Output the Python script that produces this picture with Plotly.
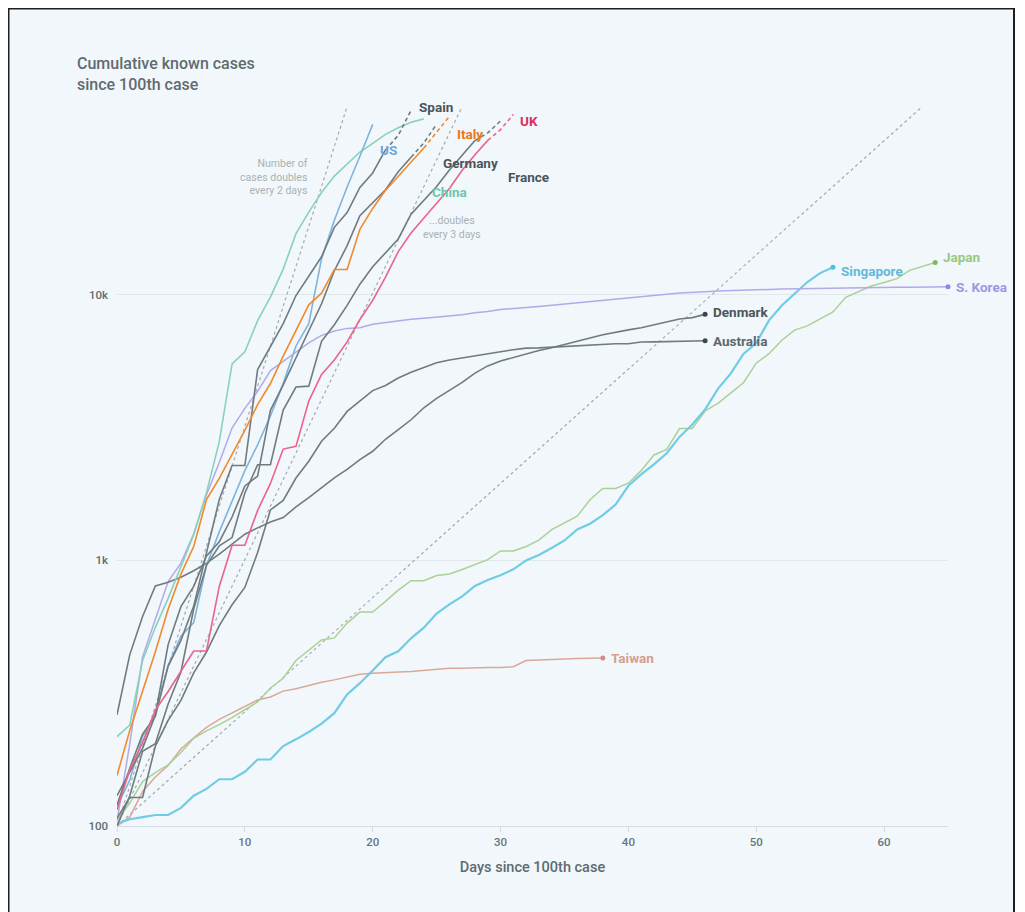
import math
import plotly.graph_objects as go

# ---------------- data (cumulative cases by day since 100th case) ----------------
china = [217, 240, 420, 560, 720, 950, 1250, 1800, 2800, 5500, 6100, 8000, 9800, 12500,
         17000, 20500, 24300, 28000, 31200, 34500, 37200, 40200, 42600, 44700, 46000]
italy = [155, 229, 322, 453, 655, 888, 1128, 1694, 2036, 2502, 3089, 3858, 4636, 5883,
         7375, 9172, 10149, 12462, 12462, 17660, 21157, 24747, 27980, 31506, 35713, 41035, 47021]
spain = [120, 165, 222, 259, 400, 500, 673, 1073, 1695, 2277, 2277, 5232, 6391, 7798,
         9942, 11748, 13910, 17963, 20410, 25374, 28768, 35136, 39885, 49515]
us = [118, 149, 217, 262, 402, 518, 583, 959, 1281, 1663, 2179, 2727, 3499, 4632, 6421,
      7786, 13680, 19101, 25493, 33276, 43847]
germany = [130, 159, 196, 262, 482, 670, 799, 1040, 1176, 1457, 1908, 2078, 3675, 4585,
           5795, 7272, 9257, 12327, 15320, 19848, 22213, 24873, 29056, 32986, 37323, 43938]
france = [100, 130, 191, 204, 288, 380, 656, 959, 1136, 1219, 1794, 2293, 2293, 3681, 4496,
          4532, 6683, 7715, 9124, 10970, 12758, 14463, 16243, 20123, 22622, 25600, 29551,
          33402, 38105, 40708, 45170]
uk = [115, 163, 206, 273, 321, 382, 456, 456, 798, 1140, 1140, 1543, 1950, 2626, 2689, 3983,
      5018, 5683, 6650, 8077, 9529, 11658, 14543, 17089, 19522, 22141, 25150, 29474, 33718,
      38168, 41903, 47806]
s_korea = [104, 204, 433, 602, 833, 977, 1261, 1766, 2337, 3150, 3736, 4335, 5186, 5621, 6088,
           6593, 7041, 7314, 7478, 7513, 7755, 7869, 7979, 8086, 8162, 8236, 8320, 8413, 8565,
           8652, 8799, 8897, 8961, 9037, 9137, 9241, 9332, 9478, 9583, 9661, 9786, 9887, 9976,
           10062, 10156, 10237, 10284, 10331, 10384, 10423, 10450, 10480, 10512, 10537, 10564,
           10591, 10613, 10635, 10653, 10661, 10674, 10683, 10694, 10702, 10708, 10718]
japan = [105, 122, 147, 159, 170, 189, 214, 228, 241, 256, 274, 293, 331, 360, 420, 461, 502,
         511, 581, 639, 639, 701, 773, 839, 839, 878, 889, 924, 963, 1007, 1086, 1086, 1128,
         1193, 1307, 1387, 1468, 1693, 1866, 1866, 1953, 2178, 2495, 2617, 3139, 3139, 3654,
         3906, 4257, 4667, 5530, 6005, 6748, 7370, 7645, 8100, 8626, 9787, 10296, 10797,
         11135, 11512, 12368, 12829, 13231]
singapore = [102, 106, 108, 110, 110, 117, 130, 138, 150, 150, 160, 178, 178, 200, 212, 226,
             243, 266, 313, 345, 385, 432, 455, 509, 558, 631, 683, 732, 802, 844, 879, 926,
             1000, 1049, 1114, 1189, 1309, 1375, 1481, 1623, 1910, 2108, 2299, 2532, 2918,
             3252, 3699, 4427, 5050, 5992, 6588, 8014, 9125, 10141, 11178, 12075, 12693]
denmark = [262, 442, 615, 801, 827, 864, 914, 977, 1057, 1151, 1255, 1326, 1395, 1450, 1591,
           1724, 1877, 2046, 2201, 2395, 2577, 2860, 3107, 3386, 3757, 4077, 4369, 4681, 5071,
           5402, 5635, 5819, 5996, 6174, 6318, 6511, 6681, 6879, 7073, 7242, 7384, 7515, 7695,
           7912, 8108, 8210, 8445]
australia = [107, 128, 128, 200, 250, 297, 377, 452, 568, 681, 791, 1071, 1549, 1682, 2044,
             2364, 2810, 3143, 3640, 3984, 4361, 4559, 4862, 5116, 5330, 5550, 5687, 5797,
             5895, 6010, 6108, 6215, 6303, 6315, 6351, 6415, 6440, 6462, 6522, 6547, 6547,
             6645, 6652, 6662, 6677, 6694, 6714]
taiwan = [100, 108, 135, 153, 169, 195, 215, 235, 252, 267, 283, 298, 306, 322, 329, 339, 348,
          355, 363, 373, 376, 379, 380, 382, 385, 388, 393, 393, 395, 395, 395, 398, 420, 422,
          425, 426, 427, 428, 429]

# doubling guide lines: start (day 0, 100 cases) and end points
guide_names = ["2 days", "3 days", "week"]
guide_x_end = [18, 27, 63]
guide_y_end = [51200, 51200, 51200]

x_ticks = [0, 10, 20, 30, 40, 50, 60]
y_ticks = [100, 1000, 10000]
y_tick_text = ["100", "1k", "10k"]

# ---------------- styling ----------------
BG = "#f1f7fa"
GREY_LINE = "#6f7b80"
GREY_LABEL = "#4b5559"
FONT = "Roboto"

# page has an 8px body margin; geometry below compensates for it
L, T, PW, PH = 109, 93, 831, 725
W, H = 1017, 904

fig = go.Figure()

def add_line(vals, color, width=1.5, dashed_tail=False):
    xs = list(range(len(vals)))
    if dashed_tail:
        n = len(vals)
        fig.add_trace(go.Scatter(x=xs[:n - 2], y=vals[:n - 2], mode="lines",
                                 line=dict(color=color, width=width), hoverinfo="skip"))
        fig.add_trace(go.Scatter(x=xs[n - 3:], y=vals[n - 3:], mode="lines",
                                 line=dict(color=color, width=width, dash="4px,3px"),
                                 hoverinfo="skip"))
    else:
        fig.add_trace(go.Scatter(x=xs, y=vals, mode="lines",
                                 line=dict(color=color, width=width), hoverinfo="skip"))

def add_end_dot(vals, color):
    fig.add_trace(go.Scatter(x=[len(vals) - 1], y=[vals[-1]], mode="markers",
                             marker=dict(color=color, size=5), hoverinfo="skip",
                             cliponaxis=False))

# guide lines
for xe, ye in zip(guide_x_end, guide_y_end):
    fig.add_trace(go.Scatter(x=[0, xe], y=[100, ye], mode="lines",
                             line=dict(color="#a3abae", width=1.2, dash="dot"),
                             hoverinfo="skip"))

# series
add_line(taiwan, "#dca797", 1.5)
add_line(japan, "#a9d296", 1.5)
add_line(singapore, "#70cce6", 2.2)
add_line(s_korea, "#b3a9ea", 1.5)
add_line(australia, GREY_LINE, 1.6)
add_line(denmark, GREY_LINE, 1.6)
add_line(china, "#88d2bc", 1.6)
add_line(us, "#7fb4de", 1.6)
add_line(france, GREY_LINE, 1.6, dashed_tail=True)
add_line(germany, GREY_LINE, 1.6, dashed_tail=True)
add_line(spain, GREY_LINE, 1.6, dashed_tail=True)
add_line(italy, "#f28a2c", 1.6, dashed_tail=True)
add_line(uk, "#ec6389", 1.6, dashed_tail=True)

add_end_dot(taiwan, "#cf8f7d")
add_end_dot(japan, "#7fb865")
add_end_dot(singapore, "#4bbfe0")
add_end_dot(s_korea, "#9485e3")
add_end_dot(australia, "#3d4549")
add_end_dot(denmark, "#3d4549")

annotations = []

def label(x, logy, text, color, size=13.5, xanchor="left", xshift=0, yshift=0, weight="bold"):
    annotations.append(dict(x=x, y=logy, xref="x", yref="y", text=text, showarrow=False,
                            xanchor=xanchor, yanchor="middle", xshift=xshift, yshift=yshift,
                            font=dict(family=FONT, size=size, color=color, weight=weight)))

# end labels
label(len(denmark) - 1, math.log10(denmark[-1]), "Denmark", GREY_LABEL, xshift=6, yshift=2)
label(len(australia) - 1, math.log10(australia[-1]), "Australia", "#5d676b", xshift=6)
label(len(s_korea) - 1, math.log10(s_korea[-1]), "S. Korea", "#a094e6", xshift=6)
label(len(japan) - 1, math.log10(japan[-1]), "Japan", "#98c882", xshift=6, yshift=6)
label(len(singapore) - 1, math.log10(singapore[-1]), "Singapore", "#62b9d9", xshift=6, yshift=-4)
label(len(taiwan) - 1, math.log10(taiwan[-1]), "Taiwan", "#d49f8f", xshift=6)

# top labels
label(23.47, 4.708, "Spain", GREY_LABEL)
label(26.4, 4.606, "Italy", "#e9761a")
label(31.4, 4.655, "UK", "#dc2f5b")
label(20.4, 4.546, "US", "#6ea6d8")
label(25.35, 4.497, "Germany", GREY_LABEL)
label(30.44, 4.444, "France", GREY_LABEL)
label(24.5, 4.388, "China", "#6fc7ab")

# guide annotations
annotations.append(dict(x=15.1, y=4.444, xref="x", yref="y",
                        text="Number of<br>cases doubles<br>every 2 days", showarrow=False,
                        xanchor="right", yanchor="middle", align="right",
                        font=dict(family=FONT, size=10.5, color="#a9b2b5")))
annotations.append(dict(x=26.2, y=4.254, xref="x", yref="y",
                        text="...doubles<br>every 3 days", showarrow=False,
                        xanchor="center", yanchor="middle", align="center",
                        font=dict(family=FONT, size=10.5, color="#a9b2b5")))
annotations.append(dict(x=65.3, y=4.693, xref="x", yref="y",
                        text="...doubles<br>every week", showarrow=False,
                        xanchor="center", yanchor="middle", align="center",
                        font=dict(family=FONT, size=10.5, color="#a9b2b5")))

# title (page px: left 75, top ~52)
annotations.append(dict(x=(75 - 8 - L) / PW, y=(T + PH - (52 - 8)) / PH, xref="paper", yref="paper",
                        text="Cumulative known cases<br>since 100th case", showarrow=False,
                        xanchor="left", yanchor="top", align="left",
                        font=dict(family=FONT, size=16, color="#5f6b70", weight=500)))

# frame / background (extends past the bottom of the page, as in the reference)
shapes = [dict(type="rect", xref="paper", yref="paper",
               x0=(0.5 - L) / PW, x1=(1014 - 8 - L) / PW,
               y0=(T + PH - (H + 20)) / PH, y1=(T + PH - 0.5) / PH,
               fillcolor=BG, line=dict(color="#1e1e1e", width=2), layer="below")]

fig.update_layout(
    width=W, height=H,
    margin=dict(l=L, r=W - L - PW, t=T, b=H - T - PH),
    paper_bgcolor="white",
    plot_bgcolor="rgba(0,0,0,0)",
    showlegend=False,
    annotations=annotations,
    shapes=shapes,
    font=dict(family=FONT),
)

fig.update_xaxes(
    range=[0, 65], tickvals=x_ticks, showgrid=False, zeroline=False,
    showline=True, linecolor="#d3dbdf", linewidth=1,
    ticks="outside", ticklen=5, tickcolor="#d3dbdf",
    tickfont=dict(family=FONT, size=11.5, color="#69757a", weight=500),
    title=dict(text="Days since 100th case", standoff=14,
               font=dict(family=FONT, size=14.5, color="#5f6b70", weight=500)),
)
fig.update_yaxes(
    type="log", range=[2, 4.73], tickvals=y_ticks, ticktext=y_tick_text,
    showgrid=True, gridcolor="#dfe7eb", gridwidth=1, zeroline=False, showline=False,
    ticks="", ticklabelstandoff=8,
    tickfont=dict(family=FONT, size=11.5, color="#5f6b70", weight=500),
)

fig.write_html("out.html")
